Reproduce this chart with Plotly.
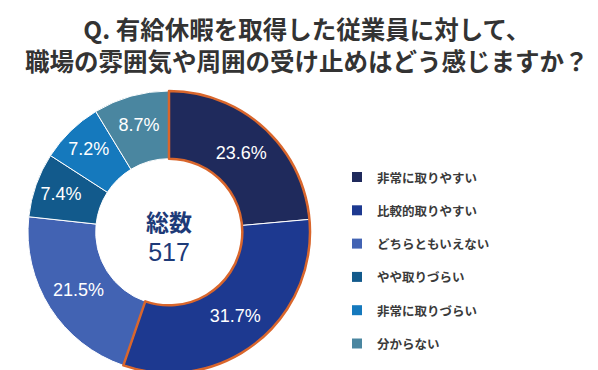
import plotly.graph_objects as go

categories = ["非常に取りやすい", "比較的取りやすい", "どちらともいえない", "やや取りづらい", "非常に取りづらい", "分からない"]
values = [23.6, 31.7, 21.5, 7.4, 7.2, 8.7]
colors = ["#1f2a5c", "#1d3990", "#4263b3", "#125a8c", "#1579bd", "#4a86a0"]
total_n = 517
title_lines = ["Q. 有給休暇を取得した従業員に対して、", "職場の雰囲気や周囲の受け止めはどう感じますか？"]

W, H = 598, 370
cx, cy, R = 161, 224, 141
dom_x = [(cx - R) / W, (cx + R) / W]
dom_y = [(H - cy - R) / H, (H - cy + R) / H]
hole = 0.52

fig = go.Figure()
fig.add_trace(go.Pie(
    labels=categories, values=values, sort=False, direction="clockwise", rotation=0,
    hole=hole, domain=dict(x=dom_x, y=dom_y),
    marker=dict(colors=colors, line=dict(color="#ffffff", width=1)),
    text=[f"{v}%" for v in values], textinfo="text", textposition="inside",
    insidetextorientation="horizontal",
    textfont=dict(family="Liberation Sans, Arial", size=18, color="white"),
    hoverinfo="label+percent", showlegend=False,
))
# orange outline around the "easy to take" group
grp_vals = [values[0] + values[1]] + values[2:]
fig.add_trace(go.Pie(
    labels=["grp"] + categories[2:], values=grp_vals, sort=False, direction="clockwise", rotation=0,
    hole=hole, domain=dict(x=dom_x, y=dom_y),
    marker=dict(colors=["rgba(0,0,0,0)"] * len(grp_vals),
                line=dict(color=["#d9662c"] + ["rgba(0,0,0,0)"] * (len(grp_vals) - 1), width=2.5)),
    textinfo="none", hoverinfo="skip", showlegend=False,
))

annotations = [
    dict(x=0.5, y=1 - 36 / H, xref="paper", yref="paper",
         text="<b>" + title_lines[0] + "<br>" + title_lines[1] + "</b>", showarrow=False,
         font=dict(family="Noto Sans CJK JP", size=24.5, color="#333333"),
         xanchor="center", yanchor="middle", align="center"),
    dict(x=cx / W, y=1 - 227 / H, xref="paper", yref="paper",
         text="<b>総数</b><br><span style='font-family:Liberation Sans, Arial;font-size:25px'>" + str(total_n) + "</span>",
         showarrow=False,
         font=dict(family="Noto Sans CJK JP", size=23, color="#1d3a78"),
         xanchor="center", yanchor="middle", align="center"),
]
shapes = []
leg_y0, leg_dy = 169, 33.3
for i, (c, col) in enumerate(zip(categories, colors)):
    y = leg_y0 + i * leg_dy
    shapes.append(dict(type="rect", xref="paper", yref="paper",
                       x0=344 / W, x1=354 / W, y0=1 - (y + 5) / H, y1=1 - (y - 5) / H,
                       fillcolor=col, line=dict(width=0)))
    annotations.append(dict(x=367 / W, y=1 - y / H, xref="paper", yref="paper", text="<b>" + c + "</b>",
                            showarrow=False,
                            font=dict(family="Noto Sans CJK JP", size=12.5, color="#3a3a3a"),
                            xanchor="left", yanchor="middle"))

fig.update_layout(
    width=W, height=H, margin=dict(l=0, r=0, t=0, b=0),
    paper_bgcolor="white", plot_bgcolor="white",
    annotations=annotations, shapes=shapes,
)
fig.write_html("out.html")
